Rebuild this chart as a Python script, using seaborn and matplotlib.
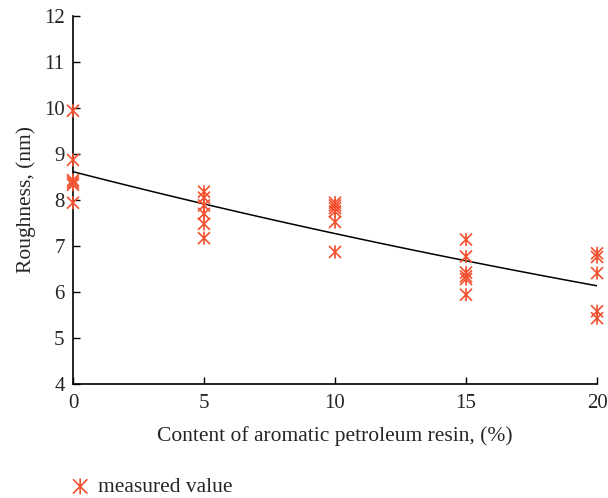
import numpy as np
import pandas as pd
import seaborn as sns
import matplotlib.pyplot as plt
from matplotlib.path import Path

resin_0 = [9.94, 8.87, 8.43, 8.38, 8.33, 7.94]
resin_5 = [8.18, 8.05, 7.88, 7.70, 7.48, 7.17]
resin_10 = [7.94, 7.88, 7.82, 7.75, 7.52, 6.87]
resin_15 = [7.14, 6.77, 6.42, 6.34, 6.28, 5.94]
resin_20 = [6.84, 6.76, 6.41, 5.58, 5.43]
contents = [0, 5, 10, 15, 20]

x_ticks = [0, 5, 10, 15, 20]
y_ticks = [4, 5, 6, 7, 8, 9, 10, 11, 12]

rows = []
for c, vals in zip(contents, [resin_0, resin_5, resin_10, resin_15, resin_20]):
    for v in vals:
        rows.append({'content': c, 'roughness': v})
df = pd.DataFrame(rows)

# exponential fit y = a*exp(b*x) from the measured data
b, log_a = np.polyfit(df['content'], np.log(df['roughness']), 1)
fit = pd.DataFrame({'content': np.linspace(0, 20, 100)})
fit['roughness'] = np.exp(log_a) * np.exp(b * fit['content'])

sns.set_style('ticks')
plt.rcParams['font.family'] = ['Liberation Serif', 'DejaVu Serif']

red = '#f2502e'
star = Path([(-1, -1), (1, 1), (-1, 1), (1, -1), (0, -1.1), (0, 1.1)],
            [Path.MOVETO, Path.LINETO, Path.MOVETO, Path.LINETO, Path.MOVETO, Path.LINETO])

fig = plt.figure(figsize=(6.08, 4.98), dpi=100)
ax = fig.add_axes([0.120, 0.229, 0.862, 0.739])

sns.lineplot(data=fit, x='content', y='roughness', color='black', linewidth=1.1, ax=ax)
sns.scatterplot(data=df, x='content', y='roughness', marker=star, s=90,
                facecolor='none', edgecolor=red, linewidth=1.2,
                label='measured value', ax=ax, zorder=3, clip_on=False)

ax.set_xlim(0, 20)
ax.set_ylim(4, 12)
ax.set_xticks(x_ticks)
ax.set_yticks(y_ticks)
ax.tick_params(direction='in', length=5, width=1, labelsize=15, color='black')
ax.tick_params(axis='x', pad=7)
ax.tick_params(axis='y', pad=6)
sns.despine(ax=ax)
for s in ['left', 'bottom']:
    ax.spines[s].set_linewidth(1.2)
    ax.spines[s].set_color('black')

ax.set_xlabel('Content of aromatic petroleum resin, (%)', fontsize=15.5, labelpad=10)
ax.set_ylabel('Roughness, (nm)', fontsize=15.5, labelpad=6)

ax.get_legend().remove()
handles, labels = ax.get_legend_handles_labels()
fig.legend(handles, labels, loc='center left', bbox_to_anchor=(0.1, 0.022),
           frameon=False, fontsize=15.5, handlelength=1.0, handletextpad=0.35,
           borderaxespad=0, markerscale=1.2)

fig.savefig('out.png', dpi=100)
